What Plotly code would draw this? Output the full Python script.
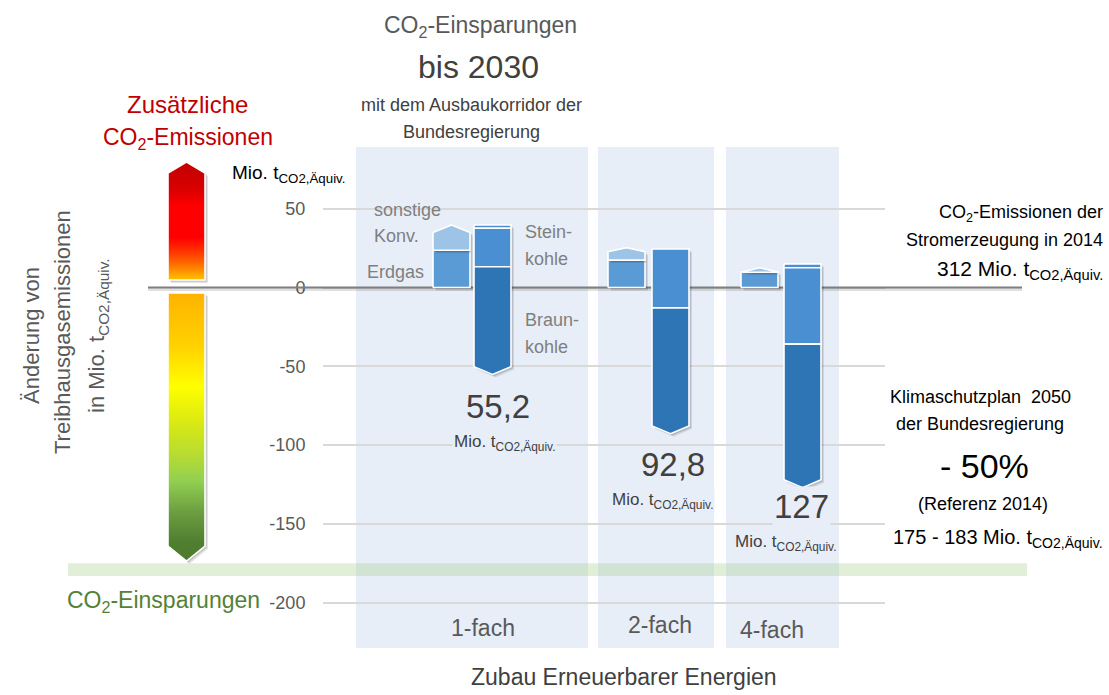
import plotly.graph_objects as go

# ---------------- data ----------------
categories = ["1-fach", "2-fach", "4-fach"]
erdgas = [23.6, 17.4, 9.7]
sonstige_konv = [16.1, 7.9, 2.8]
kohle_start = [39.7, 24.4, 15.0]
sonstige_kohle = [2.1, 0.0, 2.5]
steinkohle = [24.4, 37.3, 48.4]
braunkohle = [68.4, 79.9, 91.1]
einsparung = [55.2, 92.8, 127.0]
einsparung_text = ["55,2", "92,8", "127"]
y_ticks = [50, 0, -50, -100, -150, -200]
y_ticktext = ["50", "0", "-50", "-100", "-150", "-200"]
ziel_2050 = [175, 183]
emission_2014 = 312

# ---------------- layout constants ----------------
W, H = 1109, 695
ZERO_PX = 287.5
PPU = 1.576  # pixels per unit
Y_TOP = ZERO_PX / PPU
Y_BOT = (ZERO_PX - H) / PPU

def v(py):
    return (ZERO_PX - py) / PPU

def un(px):
    return px / PPU

FONT = "Liberation Sans, Arial, sans-serif"

C_SONST = "#9DC3E6"
C_ERDGAS = "#5B9BD5"
C_STEIN = "#4A8FD2"
C_BRAUN = "#2E75B6"
PANEL = "#E7EEF8"

erdgas_x = [433, 608, 741]
kohle_x = [474, 652, 784]
BW = 37

fig = go.Figure()

# dummy trace for the axis subplot
fig.add_trace(go.Scatter(x=[None], y=[None], xaxis="x", yaxis="y",
                         showlegend=False, hoverinfo="skip"))

def add_shadow(xs, ys):
    for dx, dy, a in [(3.0, 3.0, 0.10), (1.8, 1.8, 0.14)]:
        fig.add_trace(go.Scatter(
            x=[x + dx for x in xs], y=[y - un(dy) for y in ys],
            mode="lines", fill="toself", fillcolor=f"rgba(0,0,0,{a})",
            line=dict(width=0, color="rgba(0,0,0,0)"),
            xaxis="x2", yaxis="y2", showlegend=False, hoverinfo="skip"))

def poly(xs, ys, fill, line_w=1.6, line_c="white"):
    add_shadow(xs, ys)
    fig.add_trace(go.Scatter(
        x=xs, y=ys, mode="lines", fill="toself", fillcolor=fill,
        line=dict(width=line_w, color=line_c),
        xaxis="x2", yaxis="y2", showlegend=False, hoverinfo="skip"))

def rect(x0, x1, y0, y1):
    return [x0, x1, x1, x0, x0], [y0, y0, y1, y1, y0]

def penta_up(x0, x1, y0, y1, d):
    xc = (x0 + x1) / 2
    return [x0, x1, x1, xc, x0, x0], [y0, y0, y1 - d, y1, y1 - d, y0]

def penta_down(x0, x1, y0, y1, d):
    xc = (x0 + x1) / 2
    return [x0, x1, x1, xc, x0, x0], [y0, y0, y1 + d, y1, y1 + d, y0]

# green target band (175 - 183)
bx, by = rect(68, 1027, -ziel_2050[0], -ziel_2050[1])
fig.add_trace(go.Scatter(x=bx, y=by, mode="lines", fill="toself",
                         fillcolor="rgba(169,208,142,0.35)", line=dict(width=0),
                         xaxis="x2", yaxis="y2", showlegend=False, hoverinfo="skip"))

# zero line with shadow
fig.add_trace(go.Scatter(x=[148, 1022], y=[-un(2), -un(2)], mode="lines",
                         line=dict(color="rgba(0,0,0,0.12)", width=3),
                         xaxis="x2", yaxis="y2", showlegend=False, hoverinfo="skip"))
fig.add_trace(go.Scatter(x=[148, 1022], y=[0, 0], mode="lines",
                         line=dict(color="#7F7F7F", width=2),
                         xaxis="x2", yaxis="y2", showlegend=False, hoverinfo="skip"))

# left gradient arrows
AX0, AX1 = 168, 205
up_x, up_y = penta_up(AX0, AX1, v(280), v(162), un(11))
dn_x, dn_y = penta_down(AX0, AX1, v(293), v(561), un(15))
for xs, ys, scale in [
    (up_x, up_y,
     [[0.0, "#FFC000"], [0.03, "#FFB000"], [0.14, "#FF6A00"], [0.25, "#FF3000"],
      [0.36, "#FF0000"], [0.62, "#FF0000"], [0.77, "#DA0000"], [1.0, "#C00000"]]),
    (dn_x, dn_y,
     [[0.0, "#4E7A2E"], [0.07, "#507E30"], [0.18, "#6B9D40"], [0.30, "#92D050"],
      [0.40, "#B8DC30"], [0.53, "#DDEB10"], [0.65, "#FFFF00"], [0.80, "#FFD200"],
      [1.0, "#FFB300"]]),
]:
    add_shadow(xs, ys)
    fig.add_trace(go.Scatter(
        x=xs, y=ys, mode="lines", fill="toself",
        fillgradient=dict(type="vertical", colorscale=scale),
        line=dict(width=1.6, color="white"),
        xaxis="x2", yaxis="y2", showlegend=False, hoverinfo="skip"))

# bars (waterfall)
for i in range(len(categories)):
    x0, x1 = erdgas_x[i], erdgas_x[i] + BW
    xs, ys = rect(x0, x1, 0, erdgas[i])
    poly(xs, ys, C_ERDGAS)
    top = erdgas[i] + sonstige_konv[i]
    d = min(sonstige_konv[i], max(2.6, 0.3 * sonstige_konv[i]))
    xs, ys = penta_up(x0, x1, erdgas[i], top, d)
    poly(xs, ys, C_SONST)
    k0, k1 = kohle_x[i], kohle_x[i] + BW
    y = kohle_start[i]
    if sonstige_kohle[i] > 0:
        xs, ys = rect(k0, k1, y, y - sonstige_kohle[i])
        poly(xs, ys, C_STEIN)
        y -= sonstige_kohle[i]
    xs, ys = rect(k0, k1, y, y - steinkohle[i])
    poly(xs, ys, C_STEIN)
    y -= steinkohle[i]
    xs, ys = penta_down(k0, k1, y, y - braunkohle[i], 5.0)
    poly(xs, ys, C_BRAUN)

# panels
shapes = []
for x0, x1 in [(356, 588), (598, 714), (726, 839)]:
    shapes.append(dict(type="rect", xref="paper", yref="paper",
                       x0=x0 / W, x1=x1 / W, y0=1 - 648 / H, y1=1 - 147 / H,
                       fillcolor=PANEL, line=dict(width=0), layer="below"))

annotations = []

def ann(text, px, py, size, color="#595959", xanchor="center", angle=0, bg=None):
    d = dict(text=text, x=px / W, y=1 - py / H, xref="paper", yref="paper",
             showarrow=False, xanchor=xanchor, yanchor="middle",
             font=dict(family=FONT, size=size, color=color), textangle=angle)
    if bg:
        d["bgcolor"] = bg
    annotations.append(d)

UNIT = "Mio. t<sub>CO2,Äquiv.</sub>"

ann("CO<sub>2</sub>-Einsparungen", 480, 26, 23, "#595959")
ann("bis 2030", 478, 67, 32, "#404040")
ann("mit dem Ausbaukorridor der", 471, 105, 18, "#404040")
ann("Bundesregierung", 471, 132, 18, "#404040")
ann("Zusätzliche", 187, 104, 24, "#C00000")
ann("CO<sub>2</sub>-Emissionen", 188, 138, 23, "#C00000")
ann(UNIT, 230, 174, 19, "#000000", xanchor="left")

ann("Änderung von", 31, 336, 22, "#595959", angle=-90)
ann("Treibhausgasemissionen", 62, 332, 22, "#595959", angle=-90)
ann("in " + UNIT, 98, 336, 22, "#595959", angle=-90)

ann("sonstige", 372, 210, 18, "#7F7F7F", xanchor="left")
ann("Konv.", 372, 236, 18, "#7F7F7F", xanchor="left")
ann("Erdgas", 365, 272, 18, "#7F7F7F", xanchor="left")
ann("Stein-", 523, 232, 18, "#7F7F7F", xanchor="left")
ann("kohle", 523, 259, 18, "#7F7F7F", xanchor="left")
ann("Braun-", 523, 320, 18, "#7F7F7F", xanchor="left")
ann("kohle", 523, 347, 18, "#7F7F7F", xanchor="left")

num_pos = [(498, 406), (673, 464), (801, 507)]
unit_pos = [(504, 443), (662, 501), (785, 543)]
num_bg = [None, None, PANEL]
for i in range(len(categories)):
    ann(einsparung_text[i], num_pos[i][0], num_pos[i][1], 33, "#404040", bg=num_bg[i])
    ann(UNIT, unit_pos[i][0], unit_pos[i][1], 17, "#404040", bg=PANEL)

cat_pos = [(483, 628), (660, 625), (772, 630)]
for i, c in enumerate(categories):
    ann(c, cat_pos[i][0], cat_pos[i][1], 23, "#595959")

ann("Zubau Erneuerbarer Energien", 624, 677, 23, "#404040")

ann("CO<sub>2</sub>-Emissionen der", 1105, 213, 18, "#000000", xanchor="right")
ann("Stromerzeugung in 2014", 1105, 240, 18, "#000000", xanchor="right")
ann(f"{emission_2014} " + UNIT, 1105, 270, 21, "#000000", xanchor="right")

ann("Klimaschutzplan  2050", 980, 397, 18, "#000000")
ann("der Bundesregierung", 980, 424, 18, "#000000")
ann("- 50%", 984, 466, 34, "#000000")
ann("(Referenz 2014)", 983, 504, 18, "#000000")
ann(f"{ziel_2050[0]} - {ziel_2050[1]} " + UNIT, 1105, 538, 20, "#000000", xanchor="right")

ann("CO<sub>2</sub>-Einsparungen", 163, 601, 23, "#548235")

fig.update_layout(
    width=W, height=H,
    margin=dict(l=0, r=0, t=0, b=0),
    paper_bgcolor="white", plot_bgcolor="rgba(0,0,0,0)",
    showlegend=False,
    font=dict(family=FONT),
    xaxis=dict(domain=[323 / W, 885 / W], range=[0, 1], visible=False,
               anchor="y"),
    yaxis=dict(domain=[0, 1], range=[Y_BOT, Y_TOP], anchor="x",
               tickvals=y_ticks, ticktext=y_ticktext,
               showgrid=True, gridcolor="#D9D9D9", gridwidth=1.5,
               zeroline=False, showline=False,
               ticks="outside", ticklen=13, tickcolor="rgba(0,0,0,0)",
               tickfont=dict(size=18, color="#595959", family=FONT)),
    xaxis2=dict(domain=[0, 1], range=[0, W], visible=False, anchor="y2"),
    yaxis2=dict(domain=[0, 1], range=[Y_BOT, Y_TOP], visible=False, anchor="x2"),
    shapes=shapes,
    annotations=annotations,
)

fig.write_html("out.html",
               config={"displayModeBar": False},
               post_script="document.body.style.margin='0';document.body.style.overflow='hidden';")
